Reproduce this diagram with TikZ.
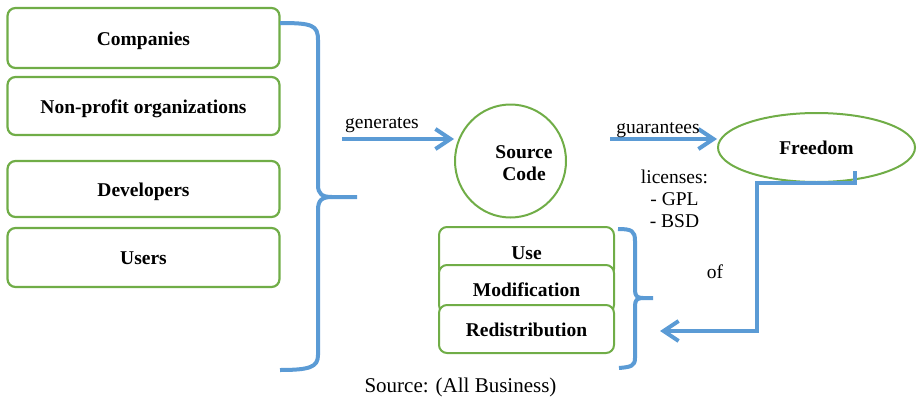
\documentclass[tikz,border=0pt]{standalone}
\usepackage{fontspec}
\setmainfont{Liberation Serif}
\usetikzlibrary{arrows.meta,shapes.geometric}
\definecolor{osblue}{HTML}{5B9BD5}
\definecolor{osgreen}{HTML}{70AD47}
\tikzset{
  txt/.style={font=\fontsize{19.5}{22}\selectfont, inner sep=0pt},
  actor/.style={draw=osgreen, line width=2.2pt, rounded corners=8pt, fill=white,
    minimum width=272pt, font=\fontsize{19.5}{22}\selectfont\bfseries,
    text height=14pt, text depth=0pt, inner sep=0pt},
  right/.style={draw=osgreen, line width=2pt, rounded corners=8pt, fill=white,
    minimum width=175pt, font=\fontsize{19.5}{22}\selectfont\bfseries,
    text height=14pt, text depth=0pt, inner sep=0pt},
  oval/.style={draw=osgreen, line width=2pt, ellipse, inner sep=0pt,
    font=\fontsize{19.5}{22}\selectfont\bfseries, text height=14pt, text depth=0pt},
  brace/.style={draw=osblue, line width=4pt, line join=round},
  flow/.style={draw=osblue, line width=4pt, -{Straight Barb[length=15pt,width=20pt,line width=4pt]}},
}
\begin{document}
\begin{tikzpicture}[x=1pt,y=-1pt]
\useasboundingbox (0,0) rectangle (917,399);

% contributors
\node[actor, minimum height=60pt] (comp) at (143.5,38) {Companies};
\node[actor, minimum height=58pt] (npo)  at (143.5,106) {Non-profit organizations};
\node[actor, minimum height=56pt] (dev)  at (143.5,189) {Developers};
\node[actor, minimum height=59pt] (usr)  at (143.5,257.5) {Users};

% big grouping brace
\coordinate (bt) at (280,23);
\coordinate (bc) at (357,197);
\coordinate (bb) at (280,370);
\draw[brace] (bt) .. controls (312,23) and (318,25) .. (318,40) -- (318,185)
  .. controls (318,194) and (322,197) .. (332,197) -- (bc);
\draw[brace] (332,197) .. controls (322,197) and (318,200) .. (318,210) -- (318,355)
  .. controls (318,367) and (310,370) .. (bb);

% source code (base anchor sits on the last line)
\node[oval, minimum width=111pt, minimum height=113pt] (src) at (510.5,161) {};
\node[txt, font=\fontsize{19.5}{22}\selectfont\bfseries, align=center, anchor=base]
  (srclbl) at (524,180) {Source\\Code};

\coordinate (gen) at (342,139);
\draw[flow] (gen) -- (gen -| src.west);
\node[txt, anchor=base] (genlbl) at (382,128) {generates};

% freedom
\node[oval, minimum width=197pt, minimum height=69pt] (free) at (816.5,147.5) {Freedom};
\coordinate (gua) at (610,139);
\draw[flow] (gua) -- (gua -| free.west);
\node[txt, anchor=base] (gualbl) at (658,133) {guarantees};

\node[txt, align=center, anchor=base] (lic) at (674.5,227)
  {licenses:\\- GPL\\- BSD};

% rights
\node[right, minimum height=50pt] (use) at (526.5,252) {Use};
\node[right, minimum height=48pt] (mod) at (526.5,289) {Modification};
\node[right, minimum height=48pt] (red) at (526.5,329) {Redistribution};

% small brace
\coordinate (st) at (618,229);
\coordinate (sc) at (653,298);
\coordinate (sb) at (619,368);
\draw[brace] (st) .. controls (632,229) and (635,231) .. (635,241) -- (635,290)
  .. controls (635,296) and (637,298) .. (643,298) -- (sc);
\draw[brace] (643,298) .. controls (637,298) and (635,300) .. (635,306) -- (635,358)
  .. controls (635,366) and (631,367) .. (sb);

% freedom of ...
\coordinate (fo) at (855,171);
\coordinate (ofend) at (660,331);
\draw[flow, line join=miter] (fo) -- (855,183) -- (757,183) -- (757,331) -- (ofend);
\node[txt, anchor=base] (oflbl) at (715,278) {of};

\node[txt, anchor=base, font=\fontsize{21}{24}\selectfont] (cap) at (460.5,392) {Source: (All Business)};
\end{tikzpicture}
\end{document}
